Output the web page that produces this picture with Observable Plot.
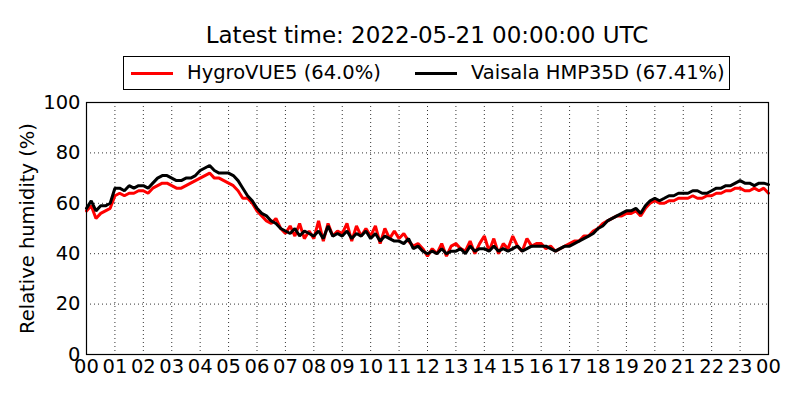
<!DOCTYPE html>
<html>
<head>
<meta charset="utf-8">
<script src="https://cdn.jsdelivr.net/npm/d3@7"></script>
<script src="https://cdn.jsdelivr.net/npm/@observablehq/plot@0.6"></script>
<style>
  html, body { margin: 0; padding: 0; background: #fff; }
  #wrap { position: relative; width: 800px; height: 400px; font-family: "DejaVu Sans", sans-serif; color: #000; }
  #title { position: absolute; left: 86px; width: 682px; top: 21px; text-align: center; font-size: 23px; line-height: 28px; }
  #legend { position: absolute; left: 123px; top: 56px; width: 607px; height: 34px; border: 1px solid #000; box-sizing: border-box; font-size: 19.5px; }
  .item { position: absolute; top: 0; height: 32px; line-height: 32px; white-space: nowrap; }
  .sw { display: inline-block; width: 42px; height: 3px; vertical-align: middle; margin-right: 14px; }
  #plot { position: absolute; left: 0; top: 0; }
</style>
</head>
<body>
<div id="wrap">
  <div id="plot"></div>
  <div id="title"></div>
  <div id="legend"></div>
</div>
<script>
// Time step of the samples, in minutes (10-minute readings, 00:00 to 24:00)
const stepMinutes = 10;
const hourTicks = [0,1,2,3,4,5,6,7,8,9,10,11,12,13,14,15,16,17,18,19,20,21,22,23,24];
const yTicks = [0,20,40,60,80,100];
const titleText = "Latest time: 2022-05-21 00:00:00 UTC";
const seriesNames = ["HygroVUE5 (64.0%)", "Vaisala HMP35D (67.41%)"];
const seriesColors = ["#ff0000", "#000000"];

// HygroVUE5 relative humidity (%), one row per hour
const hygroVUE5 = [
  57, 59, 54, 56, 57, 58,
  63, 64, 63, 64, 64, 65,
  65, 64, 66, 67, 68, 68,
  67, 66, 66, 67, 68, 69,
  70, 71, 72, 70, 70, 69,
  68, 67, 65, 62, 62, 60,
  57, 55, 53, 52, 54, 50,
  48, 51, 47, 52, 46, 49,
  46, 53, 45, 52, 47, 49,
  48, 52, 45, 51, 47, 50,
  47, 51, 44, 50, 46, 49,
  46, 48, 45, 43, 44, 42,
  39, 42, 40, 44, 39, 43,
  44, 42, 41, 45, 40, 44,
  47, 41, 46, 40, 44, 42,
  47, 43, 41, 46, 43, 44,
  44, 42, 43, 41, 42, 43,
  44, 45, 45, 47, 47, 49,
  50, 52, 53, 54, 55, 55,
  56, 56, 57, 55, 58, 60,
  61, 60, 60, 61, 61, 62,
  62, 62, 63, 62, 62, 63,
  63, 64, 64, 65, 65, 66,
  66, 65, 65, 66, 65, 66,
  64.0
];

// Vaisala HMP35D relative humidity (%), one row per hour
const vaisalaHMP35D = [
  58, 61, 57, 59, 59, 60,
  66, 66, 65, 67, 66, 67,
  67, 66, 68, 70, 71, 71,
  70, 69, 69, 70, 70, 71,
  73, 74, 75, 73, 72, 72,
  72, 71, 69, 66, 63, 61,
  58, 56, 55, 53, 52, 50,
  49, 48, 50, 47, 49, 48,
  47, 49, 46, 51, 47, 48,
  47, 49, 46, 48, 47, 49,
  46, 48, 45, 47, 46, 45,
  45, 44, 46, 42, 43, 41,
  40, 41, 40, 42, 40, 41,
  41, 42, 40, 43, 41, 42,
  42, 41, 43, 41, 42, 41,
  42, 43, 41, 42, 43, 43,
  43, 43, 42, 41, 42, 43,
  43, 44, 45, 46, 47, 48,
  50, 51, 53, 54, 55, 56,
  57, 57, 58, 56, 59, 61,
  62, 61, 62, 63, 63, 64,
  64, 64, 65, 65, 64, 64,
  65, 66, 66, 67, 67, 68,
  69, 68, 68, 67, 68, 68,
  67.41
];

const rows = [];
hygroVUE5.forEach((v, i) => rows.push({series: seriesNames[0], hour: i * stepMinutes / 60, rh: v}));
vaisalaHMP35D.forEach((v, i) => rows.push({series: seriesNames[1], hour: i * stepMinutes / 60, rh: v}));

const fmtHour = d => String(d % 24).padStart(2, "0");

const chart = Plot.plot({
  width: 800,
  height: 400,
  marginLeft: 86,
  marginRight: 32,
  marginTop: 102,
  marginBottom: 46,
  style: {fontFamily: "DejaVu Sans, sans-serif", fontSize: "19.5px", color: "#000", background: "#fff", overflow: "visible"},
  x: {domain: [0, 24], ticks: hourTicks, tickFormat: fmtHour, tickSize: 0, tickPadding: 5, label: null},
  y: {domain: [0, 100], ticks: yTicks, tickSize: 0, tickPadding: 6, label: "Relative humidity (%)", labelAnchor: "center", labelArrow: "none", labelOffset: 66},
  color: {domain: seriesNames, range: seriesColors},
  marks: [
    Plot.gridX(hourTicks, {stroke: "#000", strokeOpacity: 0.8, strokeDasharray: "1,3", strokeWidth: 1}),
    Plot.gridY(yTicks, {stroke: "#000", strokeOpacity: 0.8, strokeDasharray: "1,3", strokeWidth: 1}),
    Plot.line(rows.filter(d => d.series === seriesNames[0]), {x: "hour", y: "rh", stroke: "series", strokeWidth: 3, strokeLinejoin: "miter"}),
    Plot.line(rows.filter(d => d.series === seriesNames[1]), {x: "hour", y: "rh", stroke: "series", strokeWidth: 3, strokeLinejoin: "miter"}),
    Plot.frame({stroke: "#000", strokeWidth: 1.2})
  ]
});
document.getElementById("plot").appendChild(chart);

document.getElementById("title").textContent = titleText;
const legend = document.getElementById("legend");
const lefts = [7, 291];
seriesNames.forEach((name, i) => {
  const it = document.createElement("div");
  it.className = "item";
  it.style.left = lefts[i] + "px";
  const sw = document.createElement("span");
  sw.className = "sw";
  sw.style.background = seriesColors[i];
  it.appendChild(sw);
  it.appendChild(document.createTextNode(name));
  legend.appendChild(it);
});
</script>
</body>
</html>
